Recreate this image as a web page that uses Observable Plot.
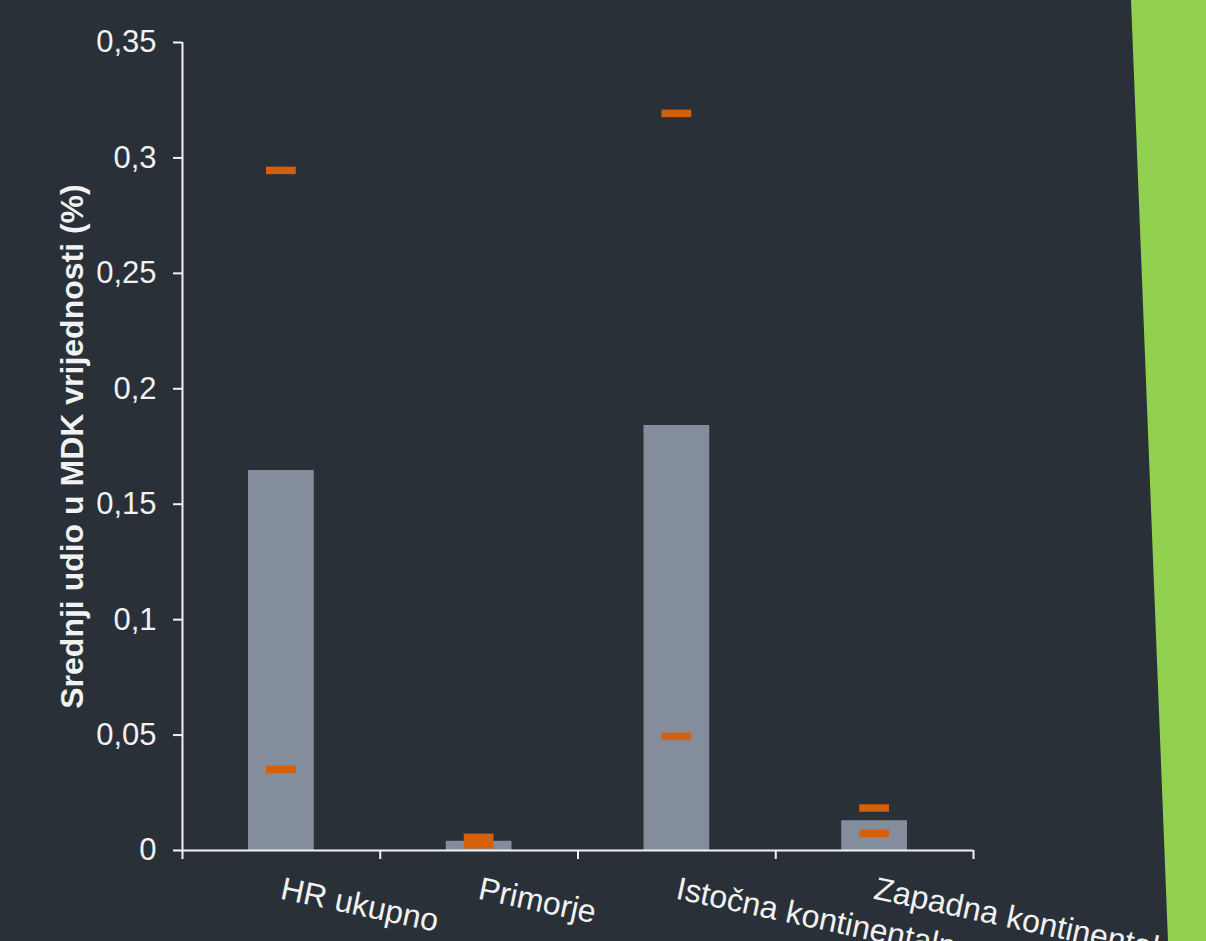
<!DOCTYPE html>
<html>
<head>
<meta charset="utf-8">
<script src="https://cdn.jsdelivr.net/npm/d3@7"></script>
<script src="https://cdn.jsdelivr.net/npm/@observablehq/plot@0.6"></script>
<style>
  html, body { margin: 0; padding: 0; background: #293038; overflow: hidden; }
  #wrap { position: relative; width: 1206px; height: 941px; }
  #accent {
    position: absolute; left: 0; top: 0; width: 1206px; height: 941px;
    background: #92d050;
    clip-path: polygon(1131px 0, 1206px 0, 1206px 941px, 1168px 941px);
    pointer-events: none;
  }
</style>
</head>
<body>
<div id="wrap"><div id="chart"></div><div id="accent"></div></div>
<script>
// Regions and the mean share of the MDK value (%), with the range markers
const categories = ["HR ukupno", "Primorje", "Istočna kontinentalna", "Zapadna kontinentalna"];
const meanShare = [0.1646, 0.0040, 0.1841, 0.0129];
const upperMark = [0.2946, 0.0057, 0.3193, 0.0184];
const lowerMark = [0.0351, 0.0025, 0.0494, 0.0074];
const yTicks = [0, 0.05, 0.1, 0.15, 0.2, 0.25, 0.3, 0.35];
const yTitle = "Srednji udio u MDK vrijednosti (%)";

const rows = categories.map((name, i) => ({
  name, i, mean: meanShare[i], upper: upperMark[i], lower: lowerMark[i]
}));
const marks = rows.flatMap(d => [
  {i: d.i, v: d.upper},
  {i: d.i, v: d.lower}
]);

const fontFamily = "'Liberation Sans', Arial, sans-serif";
const fmt = d => String(d).replace(".", ",");

const chart = Plot.plot({
  width: 1206,
  height: 941,
  marginLeft: 182,
  marginRight: 233,
  marginTop: 42,
  marginBottom: 91,
  style: {background: "#293038", color: "#f2f2f2", fontFamily, fontSize: "31px", overflow: "visible"},
  x: {domain: [0, categories.length], axis: null},
  y: {domain: [0, 0.35], axis: null},
  marks: [
    Plot.rectY(rows, {
      x1: d => d.i, x2: d => d.i + 1, y: "mean",
      insetLeft: 66, insetRight: 66, fill: "#848d9b"
    }),
    Plot.ruleY(marks, {
      x1: d => d.i, x2: d => d.i + 1, y: "v",
      insetLeft: 84, insetRight: 84,
      stroke: "#d4600b", strokeWidth: 7.5
    }),
    Plot.axisY({
      ticks: yTicks, tickFormat: fmt, tickSize: 9, tickPadding: 17,
      stroke: "#f2f2f2", strokeWidth: 2, fill: "#f2f2f2",
      fontSize: 31, label: null
    }),
    Plot.axisX({
      ticks: d3.range(categories.length + 1), tickFormat: () => "", tickSize: 9,
      stroke: "#f2f2f2", strokeWidth: 2, label: null
    }),
    Plot.ruleX([0], {stroke: "#f2f2f2", strokeWidth: 2}),
    Plot.ruleY([0], {stroke: "#f2f2f2", strokeWidth: 2}),
    Plot.text(rows, {
      x: d => d.i + 0.5, y: () => 0, text: "name",
      textAnchor: "start", lineAnchor: "middle", rotate: 12,
      dy: 38, fill: "#f2f2f2", fontSize: 32
    }),
    Plot.text([yTitle], {
      frameAnchor: "left", rotate: -90, dx: -110,
      textAnchor: "middle", lineAnchor: "middle",
      fill: "#f2f2f2", fontSize: 32, fontWeight: "bold"
    })
  ]
});
document.getElementById("chart").appendChild(chart);
</script>
</body>
</html>
